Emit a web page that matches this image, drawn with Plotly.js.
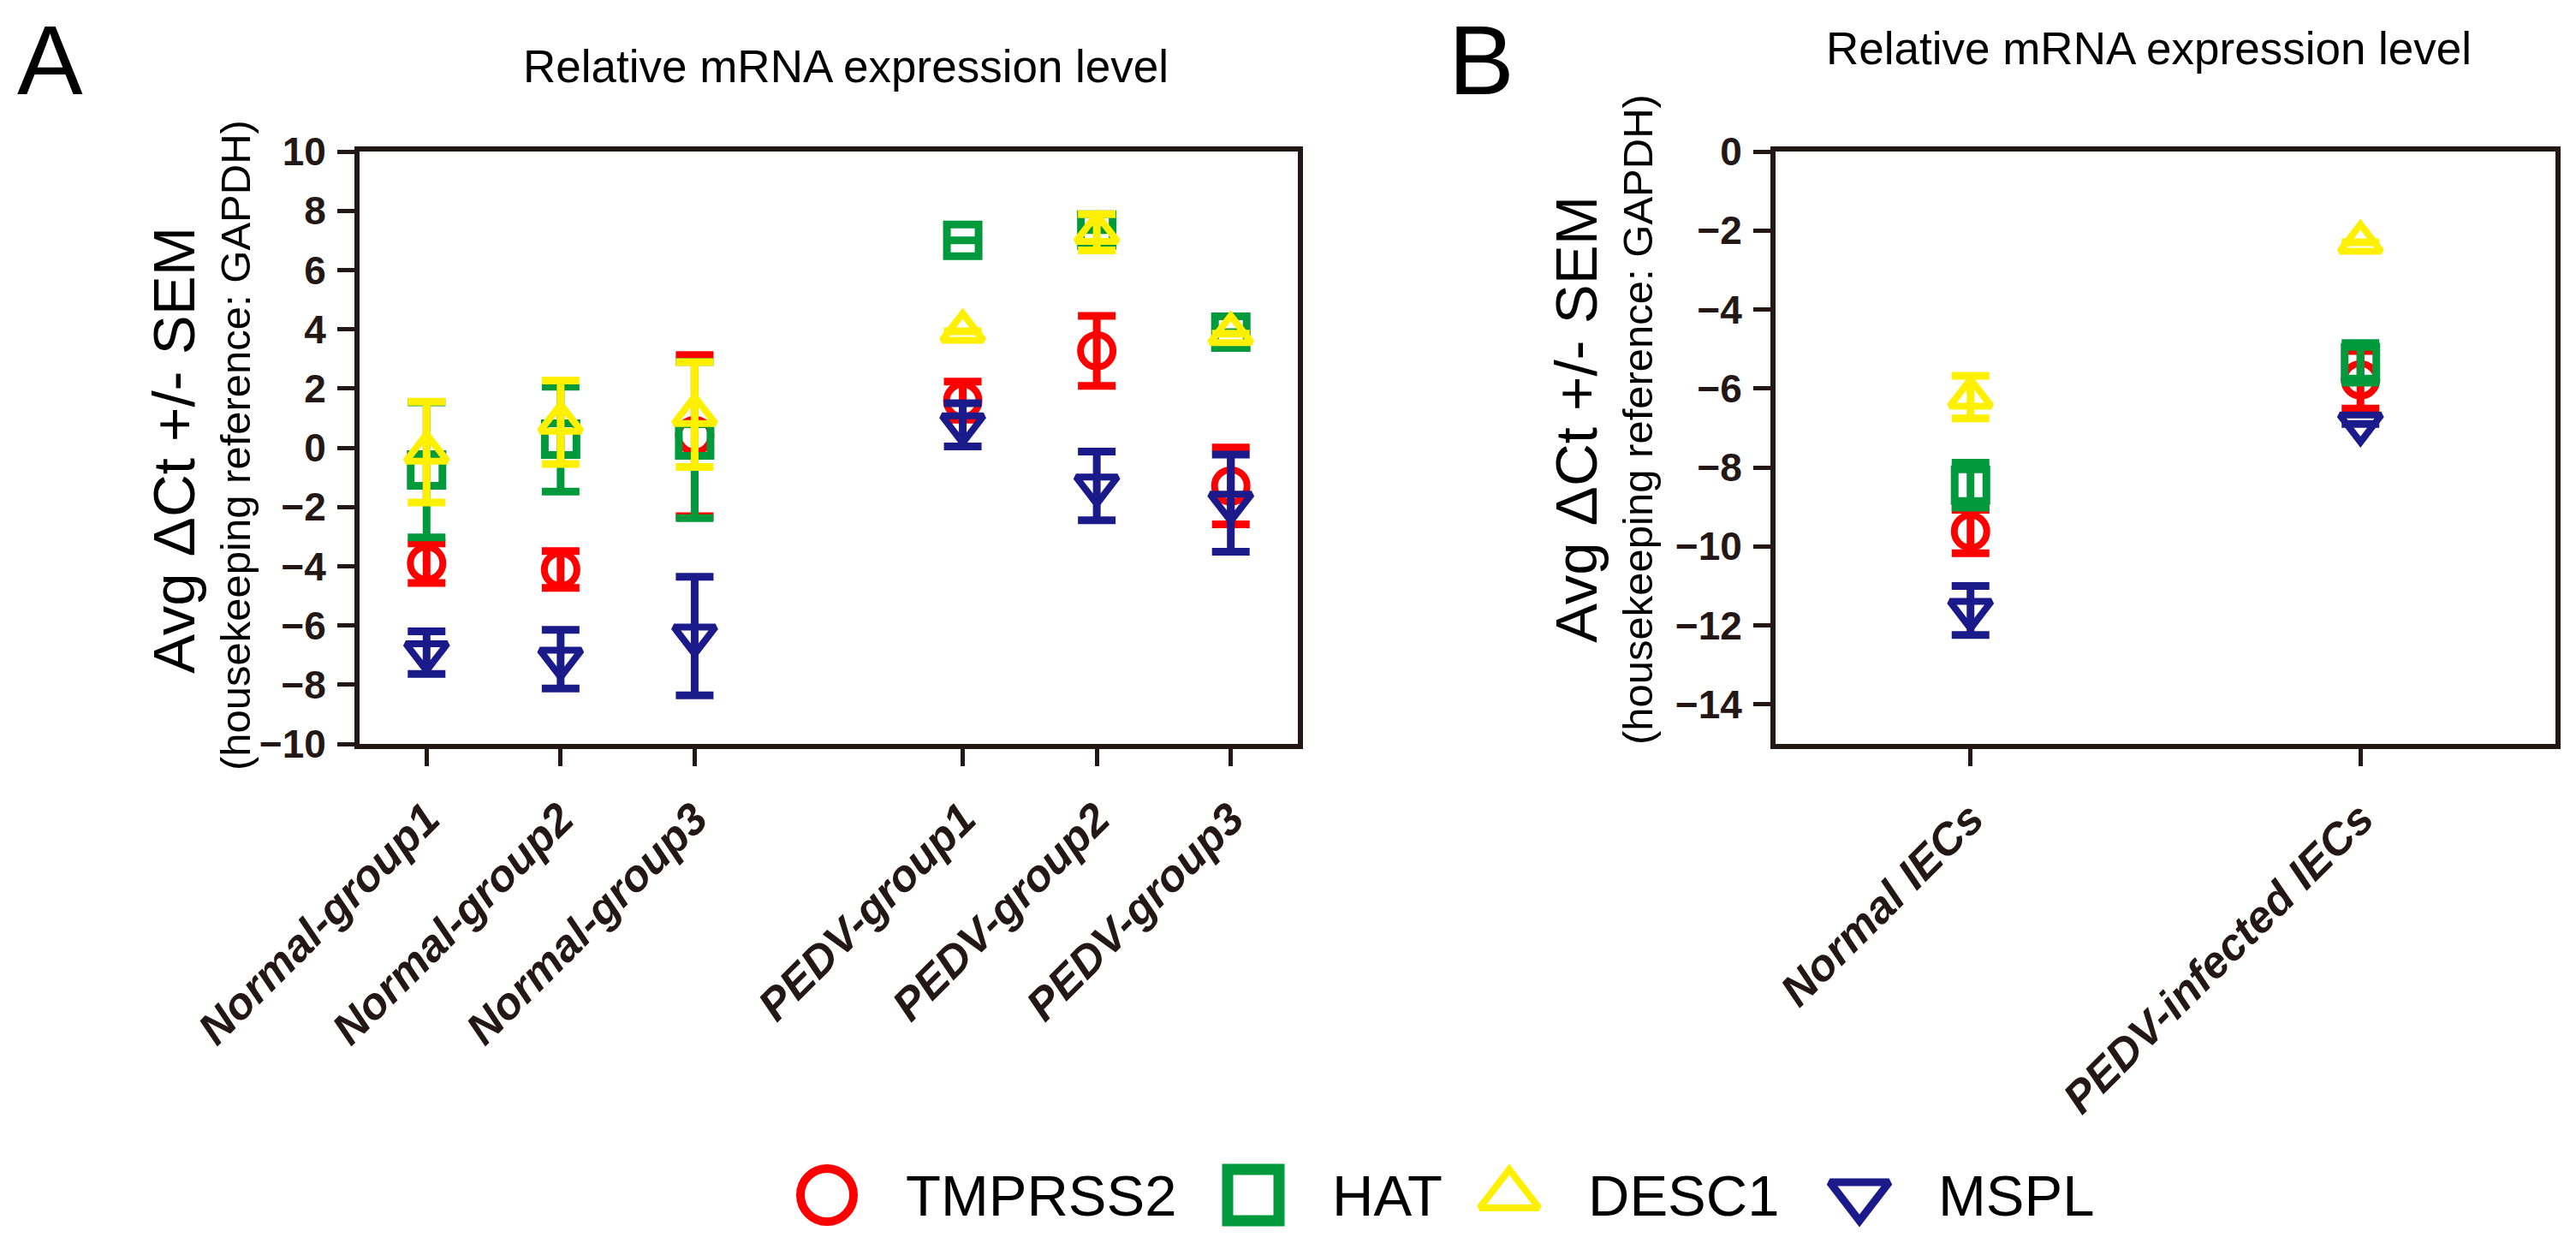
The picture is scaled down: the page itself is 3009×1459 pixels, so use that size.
<!DOCTYPE html>
<html><head><meta charset="utf-8">
<script src="https://cdn.plot.ly/plotly-3.0.1.min.js"></script>
<style>html,body{margin:0;padding:0;background:#fff}</style>
</head><body><div id="chart" style="width:3009px;height:1459px"></div>
<script>
// ---------- data ----------
const genes = ['TMPRSS2', 'HAT', 'DESC1', 'MSPL'];

const groupsA = ['Normal-group1', 'Normal-group2', 'Normal-group3', 'PEDV-group1', 'PEDV-group2', 'PEDV-group3'];
const tmprss2A = [-3.9, -4.11, 0.41, 1.59, 3.27, -1.29];
const tmprss2A_sem = [0.67, 0.62, 2.72, 0.64, 1.18, 1.3];
const hatA = [-0.75, 0.29, 0.26, 7.0, 7.35, 3.9];
const hatA_sem = [2.28, 1.77, 2.64, null, null, null];
const desc1A = [-0.15, 0.86, 1.12, 3.93, 7.27, 3.85];
const desc1A_sem = [1.7, 1.41, 1.77, null, 0.61, null];
const msplA = [-6.92, -7.14, -6.36, 0.77, -1.29, -1.87];
const msplA_sem = [0.72, 0.99, 2.0, 0.73, 1.16, 1.64];

const groupsB = ['Normal IECs', 'PEDV-infected IECs'];
const tmprss2B = [-9.62, -5.78];
const tmprss2B_sem = [0.55, 0.73];
const hatB = [-8.45, -5.35];
const hatB_sem = [0.57, 0.5];
const desc1B = [-6.22, -2.3];
const desc1B_sem = [0.54, null];
const msplB = [-11.62, -6.9];
const msplB_sem = [0.62, null];

const yTitle = 'Avg \u0394Ct +/- SEM';
const ySubTitle = '(housekeeping reference: GAPDH)';
const panelTitle = 'Relative mRNA expression level';

// ---------- styles ----------
const W = 3009, H = 1459;
const FONT = 'Liberation Sans, Arial, Helvetica, sans-serif';
const AXC = '#231815';
const colors = ['#FF0000', '#009A3C', '#FFF000', '#1A1A8A'];
const symbols = ['circle-open', 'square-open', 'triangle-up-open', 'triangle-down-open'];
const msize = [38, 37, 42, 42];
const mline = [8, 9, 8, 8];

// x positions for panel A: a one-slot gap between the Normal and PEDV groups
const xA = groupsA.map((g, i) => i + (i >= 3 ? 1 : 0));
const xB = groupsB.map((g, i) => i);

const seriesA = [[tmprss2A, tmprss2A_sem], [hatA, hatA_sem], [desc1A, desc1A_sem], [msplA, msplA_sem]];
const seriesB = [[tmprss2B, tmprss2B_sem], [hatB, hatB_sem], [desc1B, desc1B_sem], [msplB, msplB_sem]];

function mk(xs, s, k, xa, ya) {
  return {
    type: 'scatter', mode: 'markers', x: xs, y: s[0], name: genes[k],
    xaxis: xa, yaxis: ya, showlegend: false, hoverinfo: 'skip', cliponaxis: false,
    marker: {symbol: symbols[k], size: msize[k], color: colors[k], line: {color: colors[k], width: mline[k]}},
    error_y: {type: 'data', array: s[1], visible: true, color: colors[k], thickness: 9, width: 22}
  };
}

const traces = [];
seriesA.forEach((s, k) => traces.push(mk(xA, s, k, 'x', 'y')));
seriesB.forEach((s, k) => traces.push(mk(xB, s, k, 'x2', 'y2')));

// custom legend (large symbols), drawn on a hidden pixel-space axis pair
const LEG = {y: 1396, symX: [966, 1464, 1763, 2172], textDx: 90};
const legSize = [62, 60, 60, 60];
const legLine = [10, 13, 8, 9];
genes.forEach((g, k) => {
  traces.push({
    type: 'scatter', mode: 'markers', x: [LEG.symX[k]], y: [LEG.y], xaxis: 'x3', yaxis: 'y3',
    showlegend: false, hoverinfo: 'skip', cliponaxis: false,
    marker: {symbol: symbols[k], size: legSize[k], color: colors[k], line: {color: colors[k], width: legLine[k]}}
  });
});

const plotTop = 177, plotBot = 869;
const yDom = [1 - plotBot / H, 1 - plotTop / H];

const tickFontX = {family: FONT, size: 52, color: AXC, weight: 'bold', style: 'italic'};
const tickFontY = {family: FONT, size: 46, color: AXC, weight: 'bold'};

function xax(dom, vals, text, range) {
  return {domain: dom, range: range, tickmode: 'array', tickvals: vals, ticktext: text,
    tickangle: -45, tickfont: tickFontX, showgrid: false, zeroline: false,
    showline: true, linecolor: AXC, linewidth: 6, mirror: true,
    ticks: 'outside', ticklen: 20, tickwidth: 5, tickcolor: AXC, ticklabelstandoff: 10, fixedrange: true};
}
function yax(dom, range, anchor) {
  return {domain: dom, range: range, anchor: anchor, tickmode: 'linear', tick0: 0, dtick: 2,
    tickfont: tickFontY, showgrid: false, zeroline: false,
    showline: true, linecolor: AXC, linewidth: 6, mirror: true,
    ticks: 'outside', ticklen: 20, tickwidth: 5, tickcolor: AXC, ticklabelstandoff: 4, fixedrange: true};
}

const annotations = [
  {text: 'A', x: 18 / W, y: 1 - 70 / H, xanchor: 'left', yanchor: 'middle', font: {family: FONT, size: 115, color: '#000'}},
  {text: 'B', x: 1690 / W, y: 1 - 70 / H, xanchor: 'left', yanchor: 'middle', font: {family: FONT, size: 115, color: '#000'}},
  {text: panelTitle, x: 988 / W, y: 1 - 78 / H, xanchor: 'center', yanchor: 'middle', font: {family: FONT, size: 53, color: '#000'}},
  {text: panelTitle, x: 2510 / W, y: 1 - 57 / H, xanchor: 'center', yanchor: 'middle', font: {family: FONT, size: 53, color: '#000'}},
  {text: yTitle, x: 204 / W, y: 1 - 526 / H, textangle: -90, xanchor: 'center', yanchor: 'middle', font: {family: FONT, size: 69, color: '#000'}},
  {text: ySubTitle, x: 275 / W, y: 1 - 520 / H, textangle: -90, xanchor: 'center', yanchor: 'middle', font: {family: FONT, size: 49, color: '#000'}},
  {text: yTitle, x: 1841 / W, y: 1 - 490 / H, textangle: -90, xanchor: 'center', yanchor: 'middle', font: {family: FONT, size: 69, color: '#000'}},
  {text: ySubTitle, x: 1913 / W, y: 1 - 490 / H, textangle: -90, xanchor: 'center', yanchor: 'middle', font: {family: FONT, size: 49, color: '#000'}}
].map(a => Object.assign({xref: 'paper', yref: 'paper', showarrow: false}, a));

genes.forEach((g, k) => annotations.push({
  text: g, xref: 'x3', yref: 'y3', x: LEG.symX[k] + LEG.textDx, y: LEG.y, xanchor: 'left', yanchor: 'middle',
  showarrow: false, font: {family: FONT, size: 67, color: '#000'}
}));

const layout = {
  width: W, height: H, margin: {l: 0, r: 0, t: 0, b: 0},
  paper_bgcolor: '#fff', plot_bgcolor: 'rgba(0,0,0,0)', showlegend: false,
  font: {family: FONT, color: '#000'},
  xaxis: Object.assign(xax([420 / W, 1516 / W], xA, groupsA, [-0.5, 6.5]), {anchor: 'y'}),
  yaxis: yax(yDom, [-10, 10], 'x'),
  xaxis2: Object.assign(xax([2074 / W, 2985 / W], xB, groupsB, [-0.5, 1.5]), {anchor: 'y2'}),
  yaxis2: yax(yDom, [-15, 0], 'x2'),
  xaxis3: {domain: [0, 1], range: [0, W], visible: false, anchor: 'y3', fixedrange: true},
  yaxis3: {domain: [0, 1], range: [H, 0], visible: false, anchor: 'x3', fixedrange: true},
  annotations: annotations
};

Plotly.newPlot('chart', traces, layout, {staticPlot: true, displayModeBar: false});
</script>
</body></html>
